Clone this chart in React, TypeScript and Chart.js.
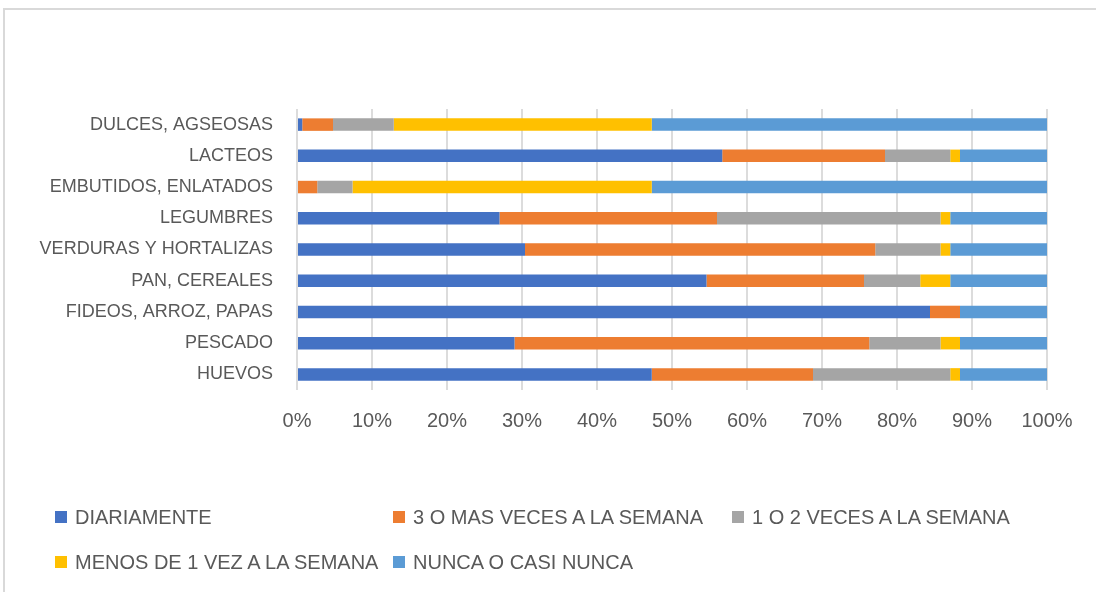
import React, { useEffect, useRef } from "react";
import { Chart, registerables } from "chart.js";

Chart.register(...registerables);

const categories = [
  "DULCES, AGSEOSAS",
  "LACTEOS",
  "EMBUTIDOS, ENLATADOS",
  "LEGUMBRES",
  "VERDURAS Y HORTALIZAS",
  "PAN, CEREALES",
  "FIDEOS, ARROZ, PAPAS",
  "PESCADO",
  "HUEVOS",
];

const seriesNames = [
  "DIARIAMENTE",
  "3 O MAS VECES A LA SEMANA",
  "1 O 2 VECES A LA SEMANA",
  "MENOS DE 1 VEZ A LA SEMANA",
  "NUNCA O CASI NUNCA",
];

const diariamente = [0.7, 56.7, 0, 27.0, 30.4, 54.6, 84.4, 29.0, 47.3];
const tresOMas = [4.1, 21.7, 2.7, 29.0, 46.7, 21.0, 4.0, 47.3, 21.5];
const unoODos = [8.1, 8.7, 4.7, 29.8, 8.7, 7.5, 0, 9.5, 18.3];
const menosDeUna = [34.4, 1.3, 39.9, 1.3, 1.3, 4.0, 0, 2.6, 1.3];
const nunca = [52.7, 11.6, 52.7, 12.9, 12.9, 12.9, 11.6, 11.6, 11.6];

const colors = ["#4472C4", "#ED7D31", "#A5A5A5", "#FFC000", "#5B9BD5"];

const TEXT = "#595959";
const FONT = "'Liberation Sans', Arial, sans-serif";

export default function App() {
  const ref = useRef<HTMLCanvasElement | null>(null);

  useEffect(() => {
    if (!ref.current) return;
    const values = [diariamente, tresOMas, unoODos, menosDeUna, nunca];
    const chart = new Chart(ref.current, {
      type: "bar",
      data: {
        labels: categories,
        datasets: seriesNames.map((name, i) => ({
          label: name,
          data: values[i],
          backgroundColor: colors[i],
          borderWidth: 0,
          barPercentage: 0.4,
          categoryPercentage: 1,
        })),
      },
      options: {
        indexAxis: "y",
        responsive: false,
        maintainAspectRatio: false,
        animation: false,
        layout: { padding: { top: 109, right: 49, bottom: 142, left: 0 } },
        plugins: {
          legend: { display: false },
          tooltip: { enabled: false },
        },
        scales: {
          x: {
            stacked: true,
            min: 0,
            max: 100,
            ticks: {
              stepSize: 10,
              callback: (v: any) => v + "%",
              color: TEXT,
              font: { family: FONT, size: 20 },
              padding: 19,
              maxRotation: 0,
            },
            grid: { color: "#dcdcdc", lineWidth: 2, drawTicks: false },
            border: { display: false },
            afterFit: (s: any) => {
              s.height = 60;
            },
          },
          y: {
            stacked: true,
            ticks: {
              color: TEXT,
              font: { family: FONT, size: 18 },
              padding: 24,
            },
            grid: { display: false, drawTicks: false },
            border: { display: false },
            afterFit: (s: any) => {
              s.width = 297;
            },
          },
        },
      },
    });
    return () => chart.destroy();
  }, []);

  const legendPos = [
    { x: 55, y: 517 },
    { x: 393, y: 517 },
    { x: 732, y: 517 },
    { x: 55, y: 562 },
    { x: 393, y: 562 },
  ];

  return (
    <div
      style={{
        position: "absolute",
        left: 0,
        top: 0,
        width: 1096,
        height: 592,
        overflow: "hidden",
        background: "#fff",
      }}
    >
      <div
        style={{
          position: "absolute",
          left: 3,
          top: 8,
          width: 1200,
          height: 700,
          border: "2px solid #d9d9d9",
        }}
      />
      <canvas
        ref={ref}
        width={1096}
        height={592}
        style={{ position: "absolute", left: 0, top: 0, width: 1096, height: 592 }}
      />
      {seriesNames.map((name, i) => (
        <div
          key={name}
          style={{
            position: "absolute",
            left: legendPos[i].x,
            top: legendPos[i].y - 12,
            height: 24,
            display: "flex",
            alignItems: "center",
            fontFamily: FONT,
            fontSize: 20,
            color: TEXT,
            whiteSpace: "nowrap",
          }}
        >
          <span
            style={{
              display: "inline-block",
              width: 12,
              height: 12,
              background: colors[i],
              marginRight: 8,
            }}
          />
          {name}
        </div>
      ))}
    </div>
  );
}
